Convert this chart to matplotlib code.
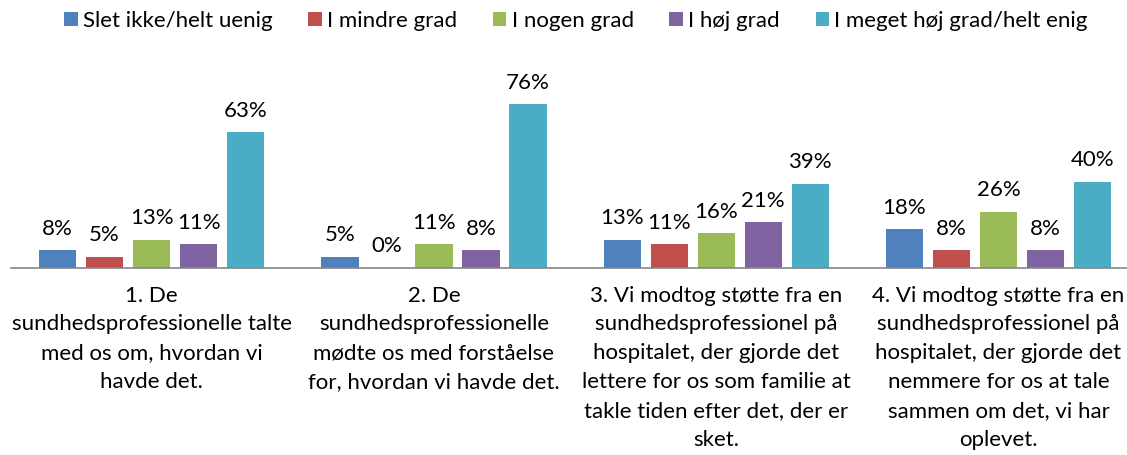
import matplotlib
matplotlib.use("Agg")
import matplotlib.pyplot as plt
from matplotlib.patches import Patch
import numpy as np

plt.rcParams['font.family'] = ['Lato', 'DejaVu Sans']

categories = [
    "1. De\nsundhedsprofessionelle talte\nmed os om, hvordan vi\nhavde det.",
    "2. De\nsundhedsprofessionelle\nmødte os med forståelse\nfor, hvordan vi havde det.",
    "3. Vi modtog støtte fra en\nsundhedsprofessionel på\nhospitalet, der gjorde det\nlettere for os som familie at\ntakle tiden efter det, der er\nsket.",
    "4. Vi modtog støtte fra en\nsundhedsprofessionel på\nhospitalet, der gjorde det\nnemmere for os at tale\nsammen om det, vi har\noplevet.",
]
series_names = ["Slet ikke/helt uenig", "I mindre grad", "I nogen grad", "I høj grad",
                "I meget høj grad/helt enig"]
slet_ikke = [8, 5, 13, 18]
mindre = [5, 0, 11, 8]
nogen = [13, 11, 16, 26]
hoej = [11, 8, 21, 8]
meget_hoej = [63, 76, 39, 40]
series_values = [slet_ikke, mindre, nogen, hoej, meget_hoej]
colors = ["#4F81BD", "#C0504D", "#9BBB59", "#8064A2", "#4BACC6"]

W, H = 1127, 455
fig = plt.figure(figsize=(W / 100, H / 100), dpi=100)
ax_left, ax_bottom = 10.5, H - 267.5
ax_w, ax_h = 4 * 282.3, 215
ax = fig.add_axes([ax_left / W, ax_bottom / H, ax_w / W, ax_h / H])

FS = 16
x = np.arange(len(categories))
pitch = 47 / 282.3
bw = 37.3 / 282.3
for i, (name, vals, c) in enumerate(zip(series_names, series_values, colors)):
    pos = x + (i - 2) * pitch
    ax.bar(pos, vals, width=bw, color=c, edgecolor='none', label=name)
    for p, v in zip(pos, vals):
        ax.annotate(f"{v}%", (p, v), xytext=(0, 11), textcoords='offset points',
                    ha='center', va='baseline', fontsize=FS, color='#000000')

ax.set_xlim(-0.5, len(categories) - 0.5)
ax.set_ylim(0, 100)
for s in ['top', 'right', 'left']:
    ax.spines[s].set_visible(False)
ax.spines['bottom'].set_color('#868686')
ax.spines['bottom'].set_linewidth(1.2)
ax.set_yticks([])
ax.set_xticks(x)
ax.set_xticklabels(categories, fontsize=FS, linespacing=1.55)
ax.tick_params(axis='x', length=0, pad=13)

handles = [Patch(facecolor=c, edgecolor='none') for c in colors]
fig.legend(handles, series_names, loc='center', bbox_to_anchor=(576 / W, 1 - 21 / H),
           ncol=5, frameon=False, fontsize=FS, handlelength=0.6, handleheight=0.6,
           handletextpad=0.25, columnspacing=1.6)

fig.savefig("out.png", dpi=100)
